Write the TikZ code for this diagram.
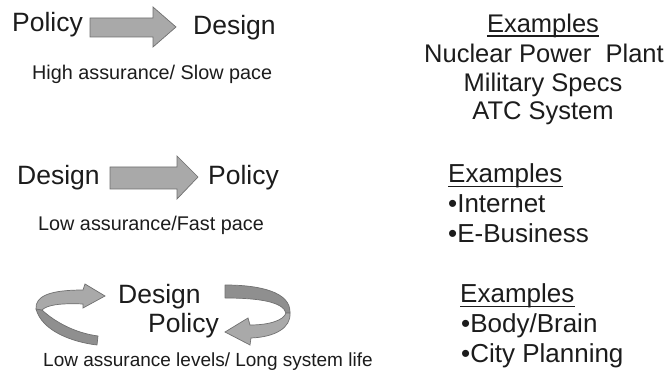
\documentclass[tikz,border=0pt]{standalone}
\usepackage{fontspec}
\setmainfont{Liberation Sans}
\usetikzlibrary{calc}
\definecolor{txt}{HTML}{1C1C1C}
\definecolor{arrfill}{HTML}{A9A9A9}
\definecolor{arrdark}{HTML}{8F8F8F}
\definecolor{arredge}{HTML}{707070}
\tikzset{
  bigtext/.style={font=\fontsize{26.5}{30}\selectfont, text=txt, inner sep=0pt, anchor=base west},
  subtext/.style={font=\fontsize{19.8}{24}\selectfont, text=txt, inner sep=0pt, anchor=base west},
  extext/.style={font=\fontsize{25.5}{29}\selectfont, text=txt, inner sep=0pt, anchor=base west},
  exctext/.style={extext, anchor=base},
  blockarrow/.style={fill=arrfill, draw=arredge, line width=0.7pt, line join=miter},
  darkband/.style={fill=arrdark, draw=arredge, line width=0.7pt, line join=round},
  uline/.style={draw=txt, line width=1.5pt},
}
\begin{document}
\begin{tikzpicture}[x=1pt, y=-1pt]
\useasboundingbox (0,0) rectangle (665,374);
\fill[white] (0,0) rectangle (665,374);

% ---------- Row 1 ----------
\node[bigtext] (p1) at (12,32) {Policy};
\node[bigtext] (d1) at (193,35) {Design};
\node[subtext] (s1) at (32,80) {High assurance/ Slow pace};
\draw[blockarrow] (90,18) -- (153,18) -- (153,7) -- (176,27) -- (153,47) -- (153,37) -- (90,37) -- cycle;

% ---------- Row 2 ----------
\node[bigtext] (d2) at (17,185) {Design};
\node[bigtext] (p2) at (208,185) {Policy};
\node[subtext] (s2) at (38,231) {Low assurance/Fast pace};
\draw[blockarrow] (110,167) -- (177,167) -- (177,156) -- (198,177) -- (177,199) -- (177,189) -- (110,189) -- cycle;

% ---------- Row 3 ----------
\node[bigtext] (d3) at (118,304) {Design};
\node[bigtext] (p3) at (148,333) {Policy};
\node[subtext, font=\fontsize{19}{23}\selectfont] (s3) at (43,367) {Low assurance levels/ Long system life};

% left curved arrow
\draw[darkband] (36,309) -- (42,310) .. controls (55,322) and (75,333) .. (98,336)
  -- (97,345) .. controls (72,342) and (42,331) .. (36,309) -- cycle;
\draw[blockarrow] (36,309) .. controls (35,296) and (50,290) .. (83,290)
  -- (85,284) -- (105,296) -- (83,308) -- (83,304)
  .. controls (60,303) and (47,305) .. (42,310) -- cycle;

% right curved arrow
\draw[darkband] (225,285) .. controls (260,285) and (291,292) .. (290,313)
  -- (286,313) .. controls (283,302) and (260,298) .. (225,298) -- cycle;
\draw[blockarrow] (290,313) .. controls (291,328) and (275,337) .. (251,338)
  -- (250,345) -- (225,332) -- (248,318) -- (250,325)
  .. controls (270,325) and (284,320) .. (286,313) -- cycle;

% ---------- Right column ----------
\node[exctext] (e1) at (543,33) {Examples};
\draw[uline] ($(e1.base west)+(0,3)$) -- ($(e1.base east)+(0,3)$);
\node[exctext] (n1) at (544,63) {Nuclear Power\ \ Plant};
\node[exctext] (m1) at (543,92) {Military Specs};
\node[exctext] (a1) at (543,120) {ATC System};

\node[extext, font=\fontsize{26}{29}\selectfont] (e2) at (448,183) {Examples};
\draw[uline] ($(e2.base west)+(0,3.5)$) -- ($(e2.base east)+(0,3.5)$);
\node[extext, font=\fontsize{26}{29}\selectfont] (i2) at (448,213) {•Internet};
\node[extext, font=\fontsize{26}{29}\selectfont] (b2) at (448,243) {•E-Business};

\node[extext, font=\fontsize{26}{29}\selectfont] (e3) at (460,303) {Examples};
\draw[uline] ($(e3.base west)+(0,3.5)$) -- ($(e3.base east)+(0,3.5)$);
\node[extext, font=\fontsize{26}{29}\selectfont] (b3) at (461,333) {•Body/Brain};
\node[extext, font=\fontsize{26}{29}\selectfont] (c3) at (461,363) {•City Planning};
\end{tikzpicture}
\end{document}
